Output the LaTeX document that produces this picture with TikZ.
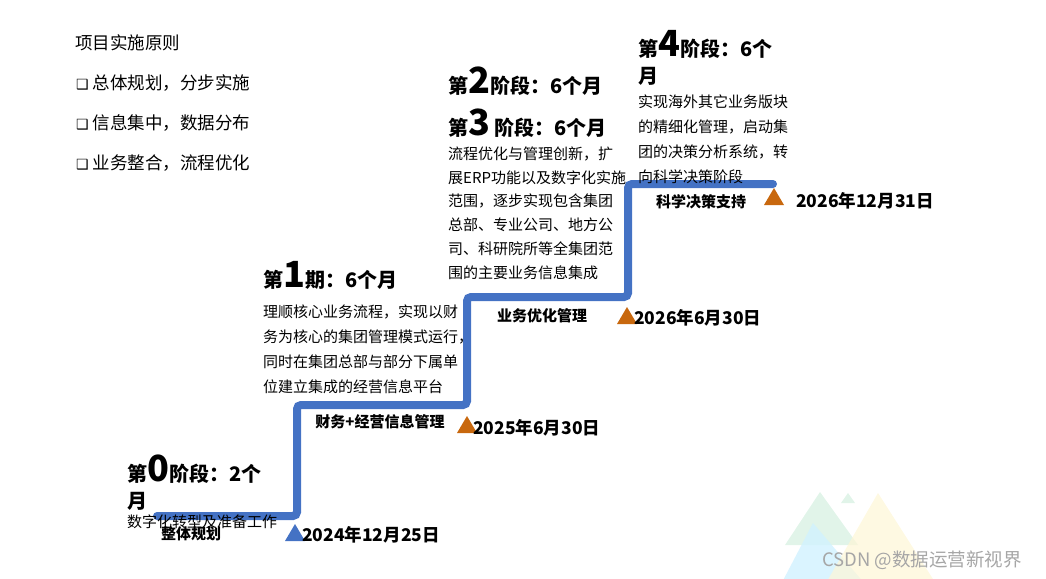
\documentclass[tikz,border=0pt]{standalone}
\usepackage{fontspec}
\setmainfont{Noto Sans CJK SC}
\newfontfamily\symfont{DejaVu Sans}
\definecolor{stairblue}{HTML}{4472C4}
\definecolor{markorange}{HTML}{C8680E}
\definecolor{markgray}{HTML}{A6A6A6}
\newcommand{\bignum}[1]{{\fontsize{36}{36}\selectfont #1}}
\tikzset{
  milestone/.pic={\fill (-10,0) -- (0,-17) -- (10,0) -- cycle;},
}

\begin{document}
\begin{tikzpicture}[x=1pt, y=-1pt,
    plain/.style={anchor=base west, inner sep=0pt, font=\fontsize{17.5}{17.5}\selectfont},
    body/.style={anchor=base west, inner sep=0pt, align=left, font=\fontsize{15}{25}\selectfont},
    heading/.style={anchor=base west, inner sep=0pt, align=left, font=\fontsize{20}{27}\selectfont\bfseries},
    stagelabel/.style={anchor=base, inner sep=0pt, font=\fontsize{15}{15}\selectfont\bfseries},
    datelabel/.style={anchor=base west, inner sep=0pt, font=\fontsize{17.5}{17.5}\selectfont\bfseries}]
    \useasboundingbox (0,0) rectangle (1046,578);
    % Faint corner triangles
    \begin{scope}
        \clip (0,0) rectangle (1046,578);
        \fill[cyan!30!green!15, opacity=0.8] (820,492) -- (785,545) -- (858,545) -- cycle;
        \fill[cyan!30!green!15, opacity=0.8] (848,493) -- (841,503) -- (855,503) -- cycle;
        \fill[blue!30!cyan!18, opacity=0.8] (813,523) -- (778,590) -- (870,590) -- cycle;
        \fill[yellow!60!orange!15, opacity=0.7] (878,493) -- (822,590) -- (940,590) -- cycle;
    \end{scope}
    % Principles
    \node[plain] (title) at (75,50) {项目实施原则};
    \node[plain] (rule1) at (76,89) {{\symfont\fontsize{14}{14}\selectfont ❑} 总体规划，分步实施};
    \node[plain] (rule2) at (76,129) {{\symfont\fontsize{14}{14}\selectfont ❑} 信息集中，数据分布};
    \node[plain] (rule3) at (76,169) {{\symfont\fontsize{14}{14}\selectfont ❑} 业务整合，流程优化};
    % Staircase
    \draw[stairblue, line width=8pt, rounded corners=4pt, line cap=round]
        (157,516) -- (297,516) -- (297,405) -- (467,405) -- (467,297)
        -- (628,297) -- (628,184) -- (773,184);
    % Stage 0 (base of a wrapped node is its last line)
    \node[heading] (head0) at (127,508) {第\bignum{0}阶段：2个\\月};
    \node[body] (body0) at (127,527) {数字化转型及准备工作};
    % Stage 1
    \node[heading] (head1) at (263,287) {第\bignum{1}期：6个月};
    \node[body] (body1) at (263,392) {理顺核心业务流程，实现以财\\务为核心的集团管理模式运行，\\同时在集团总部与部分下属单\\位建立集成的经营信息平台};
    % Stage 2 and 3
    \node[heading] (head2) at (448,93) {第\bignum{2}阶段：6个月};
    \node[heading] (head3) at (448,135) {第\bignum{3} 阶段：6个月};
    \node[body, font=\fontsize{15}{23.7}\selectfont] (body23) at (448,278) {流程优化与管理创新，扩\\展ERP功能以及数字化实施\\范围，逐步实现包含集团\\总部、专业公司、地方公\\司、科研院所等全集团范\\围的主要业务信息集成};
    % Stage 4
    \node[heading] (head4) at (638,83) {第\bignum{4}阶段：6个\\月};
    \node[body] (body4) at (638,182) {实现海外其它业务版块\\的精细化管理，启动集\\团的决策分析系统，转\\向科学决策阶段};
    % Step labels
    \node[stagelabel] (lab0) at (191,539) {整体规划};
    \node[stagelabel] (lab1) at (380,427) {财务+经营信息管理};
    \node[stagelabel] (lab2) at (542,321) {业务优化管理};
    \node[stagelabel] (lab3) at (701,207) {科学决策支持};
    % Milestones
    \pic[color=stairblue] at (295,541) {milestone};
    \pic[color=markorange] at (467,433) {milestone};
    \pic[color=markorange] at (627,324) {milestone};
    \pic[color=markorange] at (774,205) {milestone};
    \node[datelabel] (date0) at (302,541) {2024年12月25日};
    \node[datelabel] (date1) at (473,434) {2025年6月30日};
    \node[datelabel] (date2) at (634,324) {2026年6月30日};
    \node[datelabel] (date3) at (796,207) {2026年12月31日};
    % Watermark
    \node[anchor=base west, inner sep=0pt, markgray, font=\fontsize{18.5}{18.5}\selectfont] (mark) at (822,566) {CSDN @数据运营新视界};
\end{tikzpicture}
\end{document}
